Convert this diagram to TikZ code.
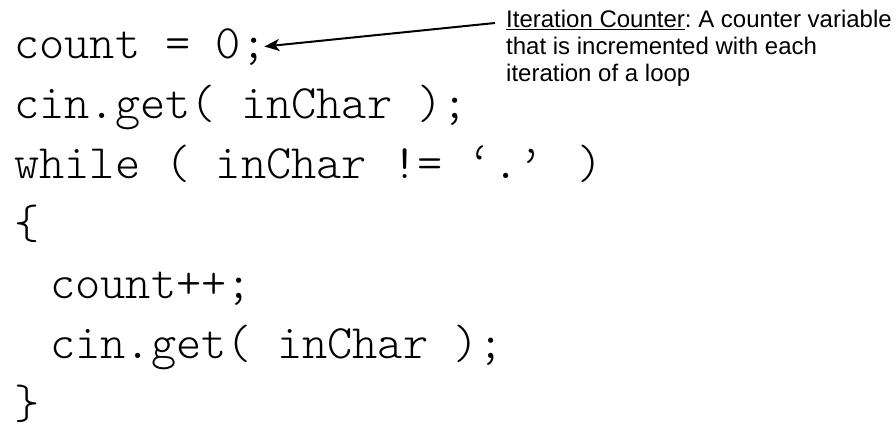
\documentclass[tikz,border=0pt]{standalone}
\usepackage{fontspec}
\setmainfont{Liberation Sans}
\newfontfamily\codefont{Latin Modern Mono Light}
\usetikzlibrary{arrows.meta, positioning}
\tikzset{
  codeline/.style={anchor=base west, inner sep=0pt,
                   font=\codefont\fontsize{48}{60}\selectfont},
  note/.style={anchor=north west, inner sep=0pt, align=left,
               font=\fontsize{24}{27}\selectfont\frenchspacing},
  arrow/.style={-{Stealth[length=15pt, width=12pt, inset=4pt]}, line width=2pt},
}
\begin{document}
\begin{tikzpicture}[x=1pt, y=-1pt]
  \useasboundingbox (0,0) rectangle (896,431);

  % Code lines
  \node[codeline] (l1) at (14,58)  {count = 0;};
  \node[codeline] (l2) at (14,118) {cin.get( inChar );};
  \node[codeline] (l3) at (14,178) {while ( inChar != ‘.’ )};
  \node[codeline] (l4) at (14,238) {\{};
  \node[codeline] (l5) at (50,298) {count++;};
  \node[codeline] (l6) at (50,358) {cin.get( inChar );};
  \node[codeline] (l7) at (14,418) {\}};

  % Annotation
  \node[note] (note) at (506,10)
    {\underline{Iteration Counter}: A counter variable\\
     that is incremented with each\\
     iteration of a loop};

  % Arrow
  \coordinate (tail) at ([shift={(-11pt,-13pt)}]note.north west);
  \draw[arrow] (tail) -- ([xshift=-2pt]l1.east);
\end{tikzpicture}
\end{document}
